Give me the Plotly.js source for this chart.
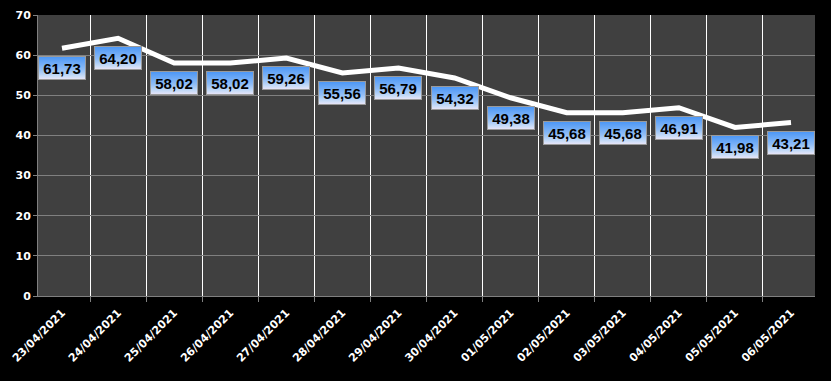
<!DOCTYPE html>
<html><head><meta charset="utf-8">
<script src="https://cdn.plot.ly/plotly-3.0.1.min.js"></script>
<style>html,body{margin:0;padding:0;background:#000;}</style>
</head><body>
<div id="chart" style="width:831px;height:381px;"></div>
<script>
const dates = ["23/04/2021","24/04/2021","25/04/2021","26/04/2021","27/04/2021","28/04/2021","29/04/2021","30/04/2021","01/05/2021","02/05/2021","03/05/2021","04/05/2021","05/05/2021","06/05/2021"];
const values = [61.73,64.20,58.02,58.02,59.26,55.56,56.79,54.32,49.38,45.68,45.68,46.91,41.98,43.21];
const yTicks = [0,10,20,30,40,50,60,70];

const fmt = v => v.toFixed(2).replace('.', ',');

const annotations = dates.map((d,i) => ({
  x: d, y: values[i], xref: 'x', yref: 'y',
  text: '<b>' + fmt(values[i]) + '</b>', showarrow: false, yshift: -20,
  width: 42, height: 18,
  font: {family: 'Liberation Sans, Arial, sans-serif', size: 15, color: '#000'},
  bgcolor: '#a9ccf4', bordercolor: '#9a9a9a', borderwidth: 1, borderpad: 2
}));

const tickFont = {family: 'DejaVu Sans', size: 11, color: '#ffffff', weight: 'bold'};

Plotly.newPlot('chart', [{
  x: dates, y: values, type: 'scatter', mode: 'lines',
  line: {color: '#ffffff', width: 5}, hoverinfo: 'skip'
}], {
  width: 831, height: 381,
  margin: {l: 38, r: 16, t: 15, b: 85},
  paper_bgcolor: '#000000', plot_bgcolor: '#404040',
  showlegend: false,
  xaxis: {
    type: 'category', tickson: 'boundaries', showgrid: true, gridcolor: '#ffffff', gridwidth: 1,
    ticks: 'outside', ticklen: 5, tickcolor: '#808080', showline: true, linecolor: '#808080', linewidth: 1,
    tickangle: -45, tickfont: tickFont, ticklabelstandoff: 5,
    zeroline: false
  },
  yaxis: {
    range: [0,70], tickvals: yTicks, showgrid: true, gridcolor: '#808080', gridwidth: 1,
    ticks: 'outside', ticklen: 4, tickcolor: '#808080', showline: true, linecolor: '#808080', linewidth: 1,
    tickfont: tickFont, zeroline: false
  },
  annotations: annotations
}, {staticPlot: true}).then(gd => {
  const svg = gd.querySelector('svg.main-svg');
  const ns = 'http://www.w3.org/2000/svg';
  let defs = svg.querySelector('defs');
  if (!defs) { defs = document.createElementNS(ns, 'defs'); svg.insertBefore(defs, svg.firstChild); }
  const lg = document.createElementNS(ns, 'linearGradient');
  lg.setAttribute('id', 'lblGrad');
  lg.setAttribute('x1', '0'); lg.setAttribute('y1', '0'); lg.setAttribute('x2', '0'); lg.setAttribute('y2', '1');
  [['0', '#4a96f6'], ['0.55', '#8ebcf6'], ['0.85', '#c8dcf7'], ['1', '#ece6f8']].forEach(([o, c]) => {
    const s = document.createElementNS(ns, 'stop');
    s.setAttribute('offset', o); s.setAttribute('stop-color', c);
    lg.appendChild(s);
  });
  defs.appendChild(lg);
  document.querySelectorAll('.annotation rect.bg').forEach(r => {
    r.setAttribute('fill', 'url(#lblGrad)');
    r.style.fill = 'url(#lblGrad)';
  });
});
</script>
</body></html>
